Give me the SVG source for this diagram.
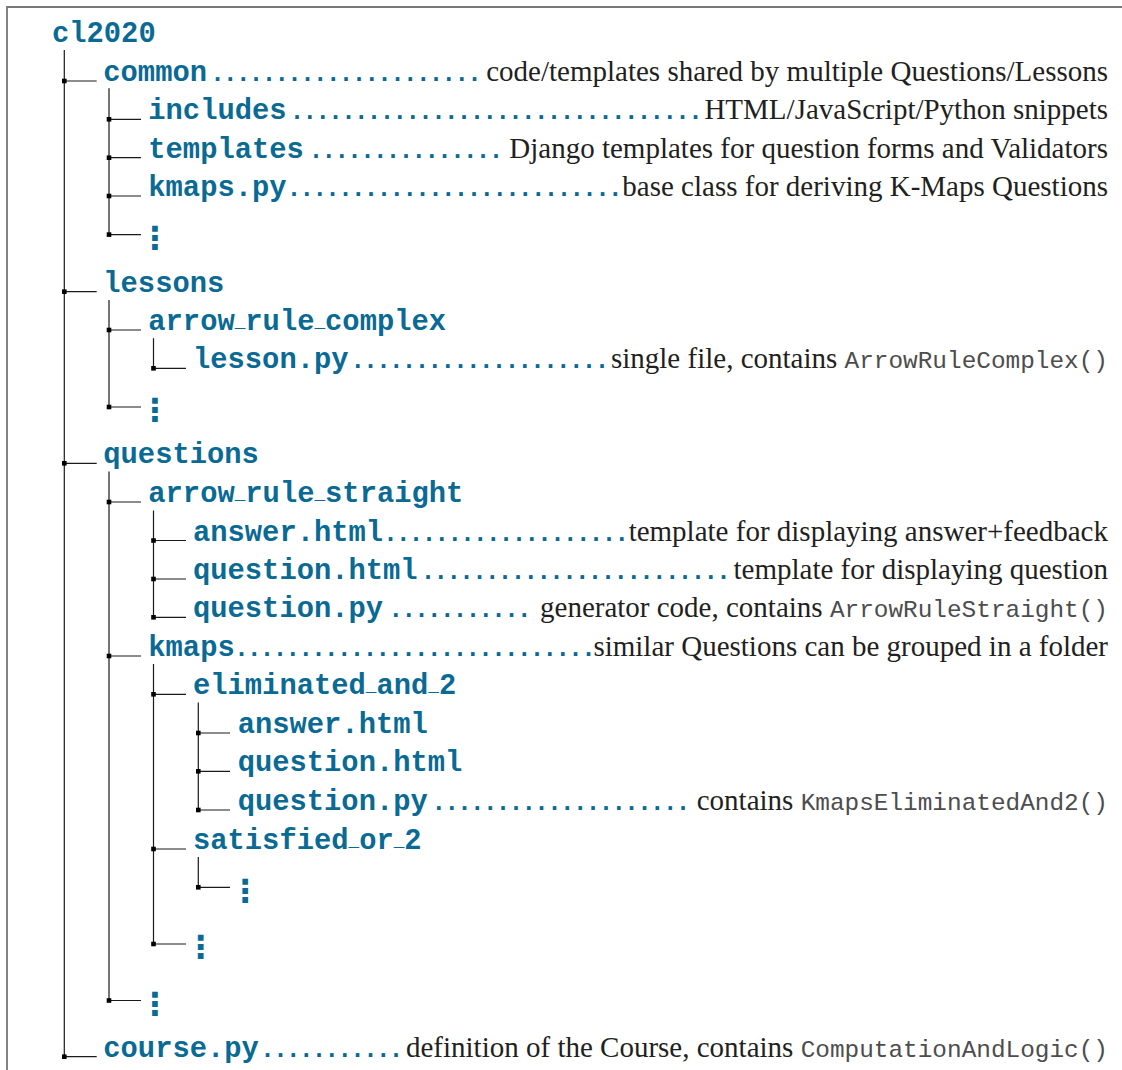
<svg xmlns="http://www.w3.org/2000/svg" width="1122" height="1070" viewBox="0 0 1122 1070">
<style>
.n{font-family:"Liberation Mono","Courier New",monospace;font-weight:bold;font-size:28.8px;fill:#0a6a94}
.u{font-size:17.7px}
.d{font-family:"Liberation Serif","Times New Roman",serif;font-size:29px;fill:#231f20;text-anchor:end}
.c{font-family:"Liberation Mono","Courier New",monospace;font-size:24.4px;fill:#4d4d4d}
.dots{font-family:"Liberation Mono","Courier New",monospace;font-weight:bold;font-size:25px;fill:#0a6a94;letter-spacing:-2.15px}
.vd{font-family:"DejaVu Sans",sans-serif;font-weight:bold;font-size:32px;fill:#0a6a94;text-anchor:middle}
.ln{stroke:#1a1a1a;stroke-width:1.2;fill:none}
.sq{fill:#000}
</style>
<path d="M7 1070 V7 H1122" fill="none" stroke="#777" stroke-width="1.8"/>
<g id="connectors">
<path class="ln" d="M64.3 50 V1056.7 M64.3 81 H96.7 M64.3 291.7 H96.7 M64.3 463.3 H96.7 M64.3 1056.7 H96.7"/>
<path class="ln" d="M109 88.3 V234.6 M109 119.3 H141 M109 157.7 H141 M109 196 H141 M109 234.6 H141"/>
<path class="ln" d="M109 300 V407 M109 330 H141 M109 407 H141"/>
<path class="ln" d="M153.5 338.3 V368.3 M153.5 368.3 H186"/>
<path class="ln" d="M109 471.5 V1000.5 M109 502 H141 M109 656 H141 M109 1000.5 H141"/>
<path class="ln" d="M153.5 510.5 V617.3 M153.5 540.5 H186 M153.5 579 H186 M153.5 617.3 H186"/>
<path class="ln" d="M153.5 664 V944 M153.5 694.3 H186 M153.5 849 H186 M153.5 944 H186"/>
<path class="ln" d="M198.3 702.5 V810 M198.3 733 H230 M198.3 771.3 H230 M198.3 810 H230"/>
<path class="ln" d="M198.3 857 V887.3 M198.3 887.3 H230"/>
<g class="sq">
<rect x="62" y="78.7" width="4.6" height="4.6"/>
<rect x="62" y="289.4" width="4.6" height="4.6"/>
<rect x="62" y="461" width="4.6" height="4.6"/>
<rect x="62" y="1054.4" width="4.6" height="4.6"/>
<rect x="106.7" y="117" width="4.6" height="4.6"/>
<rect x="106.7" y="155.4" width="4.6" height="4.6"/>
<rect x="106.7" y="193.7" width="4.6" height="4.6"/>
<rect x="106.7" y="232.3" width="4.6" height="4.6"/>
<rect x="106.7" y="327.7" width="4.6" height="4.6"/>
<rect x="106.7" y="404.7" width="4.6" height="4.6"/>
<rect x="151.2" y="366" width="4.6" height="4.6"/>
<rect x="106.7" y="499.7" width="4.6" height="4.6"/>
<rect x="106.7" y="653.7" width="4.6" height="4.6"/>
<rect x="106.7" y="998.2" width="4.6" height="4.6"/>
<rect x="151.2" y="538.2" width="4.6" height="4.6"/>
<rect x="151.2" y="576.7" width="4.6" height="4.6"/>
<rect x="151.2" y="615" width="4.6" height="4.6"/>
<rect x="151.2" y="692" width="4.6" height="4.6"/>
<rect x="151.2" y="846.7" width="4.6" height="4.6"/>
<rect x="151.2" y="941.7" width="4.6" height="4.6"/>
<rect x="196" y="730.7" width="4.6" height="4.6"/>
<rect x="196" y="769" width="4.6" height="4.6"/>
<rect x="196" y="807.7" width="4.6" height="4.6"/>
<rect x="196" y="885" width="4.6" height="4.6"/>
</g>
</g>
<g id="node-cl2020"><text class="n" x="52" y="42">cl2020</text></g>
<g id="node-common">
<text class="n" x="103.3" y="81">common</text>
<text class="dots" x="210" y="81">.....................</text>
<text class="d" x="1108" y="81">code/templates shared by multiple Questions/Lessons</text>
</g>
<g id="node-includes">
<text class="n" x="148.3" y="119.3">includes</text>
<text class="dots" x="289.5" y="119.3">................................</text>
<text class="d" x="1108" y="119.3">HTML/JavaScript/Python snippets</text>
</g>
<g id="node-templates">
<text class="n" x="148.3" y="157.7">templates</text>
<text class="dots" x="308.5" y="157.7">...............</text>
<text class="d" x="1108" y="157.7">Django templates for question forms and Validators</text>
</g>
<g id="node-kmaps-py">
<text class="n" x="148.3" y="196">kmaps.py</text>
<text class="dots" x="286.5" y="196">..........................</text>
<text class="d" x="1108" y="196">base class for deriving K-Maps Questions</text>
</g>
<g id="node-common-more"><text class="vd" x="155" y="249">⋮</text></g>
<g id="node-lessons"><text class="n" x="103.3" y="291.7">lessons</text></g>
<g id="node-arrow-rule-complex"><text class="n" x="148.3" y="330">arrow<tspan class="u" dy="-3">_</tspan><tspan dy="3">rule</tspan><tspan class="u" dy="-3">_</tspan><tspan dy="3">complex</tspan></text></g>
<g id="node-lesson-py">
<text class="n" x="193" y="368.3">lesson.py</text>
<text class="dots" x="350.2" y="368.3">....................</text>
<text class="d" x="1108" y="368.3">single file, contains <tspan class="c">ArrowRuleComplex()</tspan></text>
</g>
<g id="node-lessons-more"><text class="vd" x="155" y="421.4">⋮</text></g>
<g id="node-questions"><text class="n" x="103.3" y="463.3">questions</text></g>
<g id="node-arrow-rule-straight"><text class="n" x="148.3" y="502">arrow<tspan class="u" dy="-3">_</tspan><tspan dy="3">rule</tspan><tspan class="u" dy="-3">_</tspan><tspan dy="3">straight</tspan></text></g>
<g id="node-answer-html-1">
<text class="n" x="193" y="540.5">answer.html</text>
<text class="dots" x="382.9" y="540.5">...................</text>
<text class="d" x="1108" y="540.5">template for displaying answer+feedback</text>
</g>
<g id="node-question-html-1">
<text class="n" x="193" y="579">question.html</text>
<text class="dots" x="420.5" y="579">........................</text>
<text class="d" x="1108" y="579">template for displaying question</text>
</g>
<g id="node-question-py-1">
<text class="n" x="193" y="617.3">question.py</text>
<text class="dots" x="388.3" y="617.3">...........</text>
<text class="d" x="1108" y="617.3">generator code, contains <tspan class="c">ArrowRuleStraight()</tspan></text>
</g>
<g id="node-kmaps">
<text class="n" x="148.3" y="656">kmaps</text>
<text class="dots" x="233.9" y="656">............................</text>
<text class="d" x="1108" y="656">similar Questions can be grouped in a folder</text>
</g>
<g id="node-eliminated-and-2"><text class="n" x="193" y="694.3">eliminated<tspan class="u" dy="-3">_</tspan><tspan dy="3">and</tspan><tspan class="u" dy="-3">_</tspan><tspan dy="3">2</tspan></text></g>
<g id="node-answer-html-2"><text class="n" x="237.7" y="733">answer.html</text></g>
<g id="node-question-html-2"><text class="n" x="237.7" y="771.3">question.html</text></g>
<g id="node-question-py-2">
<text class="n" x="237.7" y="810">question.py</text>
<text class="dots" x="431.3" y="810">....................</text>
<text class="d" x="1108" y="810">contains <tspan class="c">KmapsEliminatedAnd2()</tspan></text>
</g>
<g id="node-satisfied-or-2"><text class="n" x="193" y="849">satisfied<tspan class="u" dy="-3">_</tspan><tspan dy="3">or</tspan><tspan class="u" dy="-3">_</tspan><tspan dy="3">2</tspan></text></g>
<g id="node-satisfied-more"><text class="vd" x="245.3" y="901.7">⋮</text></g>
<g id="node-kmaps-more"><text class="vd" x="200.7" y="958.4">⋮</text></g>
<g id="node-questions-more"><text class="vd" x="155" y="1014.9">⋮</text></g>
<g id="node-course-py">
<text class="n" x="103.3" y="1056.7">course.py</text>
<text class="dots" x="260.1" y="1056.7">...........</text>
<text class="d" x="1108" y="1056.7">definition of the Course, contains <tspan class="c">ComputationAndLogic()</tspan></text>
</g>
</svg>
